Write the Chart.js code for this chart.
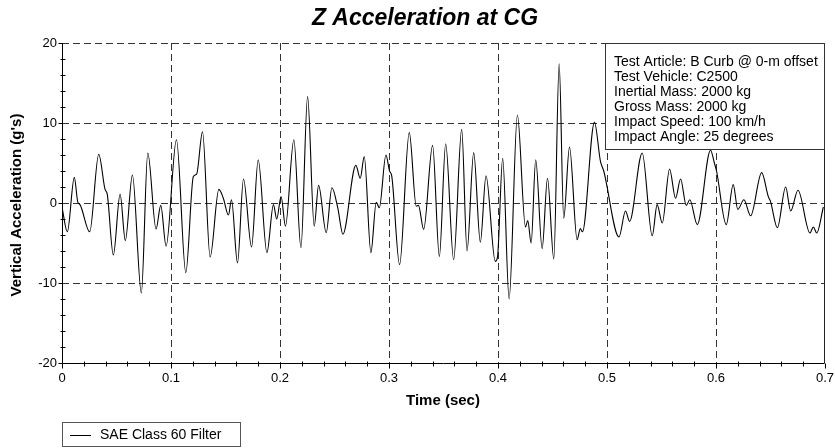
<!DOCTYPE html>
<html><head><meta charset="utf-8">
<script src="https://cdn.jsdelivr.net/npm/chart.js@4.4.0/dist/chart.umd.min.js"></script>
<style>html,body{margin:0;padding:0;background:#fff;}#wrap{width:835px;height:448px;position:relative;}</style>
</head><body><div id="wrap"><canvas id="c" width="835" height="448"></canvas></div>
<script>
const chartTitle = "Z Acceleration at CG";
const xAxisTitle = "Time (sec)";
const yAxisTitle = "Vertical Acceleration (g's)";
const seriesName = "SAE Class 60 Filter";
const infoLines = [
  "Test Article: B Curb @ 0-m offset",
  "Test Vehicle: C2500",
  "Inertial Mass: 2000 kg",
  "Gross Mass: 2000 kg",
  "Impact Speed: 100 km/h",
  "Impact Angle: 25 degrees"
];
const xTicks = [0, 0.1, 0.2, 0.3, 0.4, 0.5, 0.6, 0.7];
const xTickLabels = ["0", "0.1", "0.2", "0.3", "0.4", "0.5", "0.6", "0.7"];
const yTicks = [-20, -10, 0, 10, 20];
const yTickLabels = ["-20", "-10", "0", "10", "20"];

const timeSec = [
  0.000, 0.0049, 0.0113, 0.0145, 0.0165, 0.0254, 0.0337, 0.0395, 0.0415, 0.0471,
  0.0533, 0.0581, 0.0646, 0.0728, 0.0787, 0.0863, 0.0906, 0.0955, 0.1050, 0.1136,
  0.1205, 0.1235, 0.1289, 0.1359, 0.1439, 0.1480, 0.1527, 0.1555, 0.1610, 0.1665,
  0.1739, 0.1800, 0.1880, 0.1940, 0.1970, 0.2010, 0.2050, 0.2127, 0.2192, 0.2253,
  0.2314, 0.2354, 0.2424, 0.2476, 0.2530, 0.2577, 0.2696, 0.2736, 0.2773, 0.2834,
  0.2883, 0.2911, 0.2972, 0.3005, 0.3025, 0.3097, 0.3186, 0.3250, 0.3270, 0.3318,
  0.3400, 0.3462, 0.3520, 0.3593, 0.3667, 0.3716, 0.3777, 0.3838, 0.3890, 0.3975,
  0.3995, 0.4043, 0.4102, 0.4178, 0.4252, 0.4273, 0.4304, 0.4346, 0.4405, 0.4454,
  0.4512, 0.4561, 0.4603, 0.4656, 0.4726, 0.4755, 0.4775, 0.4885, 0.4940, 0.4970,
  0.5110, 0.5170, 0.5207, 0.5323, 0.5415, 0.5460, 0.5507, 0.5574, 0.5629, 0.5675,
  0.5727, 0.5760, 0.5828, 0.5950, 0.5985, 0.6005, 0.6094, 0.6158, 0.6200, 0.6256,
  0.6318, 0.6419, 0.6480, 0.6500, 0.6563, 0.6639, 0.6685, 0.6752, 0.6862, 0.6893,
  0.6924, 0.6985
];
const accelG = [
  -0.5, -3.6, 3.2, 0.1, -0.2, -3.6, 6.1, 1.7, 1.1, -6.5,
  1.1, -4.7, 3.5, -11.25, 6.25, -3.25, -0.3, -5.4, 7.9, -8.7,
  3.3, 3.6, 8.9, -6.75, 1.7, 0.6, -1.5, 0.4, -7.5, 3.0,
  -5.5, 5.4, -6.2, -0.2, -2.0, 0.8, -2.9, 7.9, -5.6, 13.3,
  -2.9, 2.2, -3.7, 1.9, -0.6, -3.9, 4.7, 3.1, 5.8, -6.2,
  0.1, -0.6, 6.0, 4.0, 3.4, -7.7, 8.8, -0.4, -0.3, -3.3,
  7.2, -6.7, 7.4, -7.1, 9.2, -6.0, 6.3, -4.9, 3.4, -7.3,
  -6.8, 5.6, -12.0, 11.0, -3.0, -2.2, -5.0, 5.4, -5.7, 3.1,
  -7.0, 17.4, -1.9, 7.0, -4.6, -3.2, -3.6, 10.1, 5.2, 4.0,
  -4.25, -1.0, -2.3, 6.25, -4.1, -0.2, -2.5, 4.25, 0.6, 3.0,
  -0.3, 0.4, -2.7, 6.6, 5.0, 4.0, -2.7, 2.3, -0.8, 0.4,
  -1.6, 3.8, 0.8, 0.2, -3.1, 2.0, -1.0, 1.6, -3.75, -3.0,
  -3.75, -0.5
];
const xMinorStep = 0.02;
const yMinorStep = 2;

const FONT = '"Liberation Sans", Arial, Helvetica, sans-serif';

const decor = {
  id: 'decor',
  beforeDatasetsDraw(chart) {
    const {ctx, chartArea: a, scales: {x, y}} = chart;
    ctx.save();
    ctx.strokeStyle = '#333333';
    ctx.lineWidth = 1;
    ctx.setLineDash([7, 4]);
    ctx.beginPath();
    yTicks.forEach(v => {
      if (v === yTicks[0]) return;
      const py = Math.round(y.getPixelForValue(v)) + 0.5;
      ctx.moveTo(a.left, py); ctx.lineTo(a.right, py);
    });
    xTicks.forEach((v, i) => {
      if (i === 0 || i === xTicks.length - 1) return;
      const px = Math.round(x.getPixelForValue(v)) + 0.5;
      ctx.moveTo(px, a.top); ctx.lineTo(px, a.bottom);
    });
    ctx.stroke();
    ctx.restore();
  },
  afterDatasetsDraw(chart) {
    const {ctx, chartArea: a, scales: {x, y}} = chart;
    ctx.save();
    ctx.setLineDash([]);
    ctx.lineWidth = 1;
    const L = Math.round(a.left) + 0.5, B = Math.round(a.bottom) + 0.5, R = Math.round(a.right) - 0.5;
    ctx.strokeStyle = '#000';
    ctx.beginPath();
    ctx.moveTo(L, a.top); ctx.lineTo(L, B);
    ctx.lineTo(R, B);
    ctx.stroke();
    ctx.strokeStyle = '#222';
    ctx.beginPath();
    ctx.moveTo(R, a.top); ctx.lineTo(R, B);
    ctx.stroke();
    ctx.strokeStyle = '#000';
    ctx.beginPath();
    for (let v = yTicks[0]; v <= yTicks[yTicks.length - 1] + 1e-9; v += yMinorStep) {
      const py = Math.round(y.getPixelForValue(v)) + 0.5;
      if (Math.abs(v % 10) < 1e-9) { ctx.moveTo(L - 4, py); ctx.lineTo(L, py); }
      else { ctx.moveTo(L - 2, py); ctx.lineTo(L + 3, py); }
    }
    for (let k = 0; k <= 35; k++) {
      const v = k * xMinorStep;
      const px = Math.round(x.getPixelForValue(v)) + 0.5;
      if (k % 5 === 0) { ctx.moveTo(px, B); ctx.lineTo(px, B + 5); }
      else { ctx.moveTo(px, B - 2); ctx.lineTo(px, B + 3); }
    }
    ctx.stroke();
    ctx.fillStyle = '#fff';
    ctx.strokeStyle = '#333';
    ctx.fillRect(605.5, 43.5, 219, 106);
    ctx.strokeRect(605.5, 43.5, 219, 106);
    ctx.fillStyle = '#000';
    ctx.font = '14px ' + FONT;
    ctx.textAlign = 'left';
    ctx.textBaseline = 'middle';
    infoLines.forEach((s, i) => ctx.fillText(s, 614, 62 + i * 15.1));
    ctx.strokeStyle = '#555';
    ctx.strokeRect(62.5, 422.5, 178, 24);
    ctx.strokeStyle = '#000';
    ctx.beginPath(); ctx.moveTo(70, 435.5); ctx.lineTo(91, 435.5); ctx.stroke();
    ctx.fillText(seriesName, 100, 435);
    ctx.textAlign = 'center';
    ctx.font = 'italic bold 23px ' + FONT;
    ctx.fillText(chartTitle, 425, 19);
    ctx.font = 'bold 15px ' + FONT;
    ctx.fillText(xAxisTitle, 443, 401);
    ctx.translate(16.5, 205);
    ctx.rotate(-Math.PI / 2);
    ctx.fillText(yAxisTitle, 0, 0);
    ctx.restore();
  }
};

new Chart(document.getElementById('c'), {
  type: 'line',
  data: {
    datasets: [{
      label: seriesName,
      data: timeSec.map((t, i) => ({x: t, y: accelG[i]})),
      borderColor: '#000',
      borderWidth: 1.1,
      pointRadius: 0,
      fill: false,
      cubicInterpolationMode: 'monotone'
    }]
  },
  options: {
    responsive: false,
    animation: false,
    devicePixelRatio: 1,
    layout: {padding: {top: 43, right: 10, bottom: 45, left: 0}},
    plugins: {legend: {display: false}, title: {display: false}, tooltip: {enabled: false}},
    scales: {
      x: {
        type: 'linear', min: 0, max: 0.7,
        grid: {display: false, drawTicks: false},
        border: {display: false},
        afterBuildTicks: s => { s.ticks = xTicks.map(v => ({value: v})); },
        afterFit: s => { s.height = 40; s.paddingLeft = 0; s.paddingRight = 0; },
        ticks: {
          color: '#000', font: {size: 13, family: FONT}, padding: 8, maxRotation: 0, autoSkip: false,
          callback: (v, i) => xTickLabels[i]
        }
      },
      y: {
        type: 'linear', min: -20, max: 20,
        grid: {display: false, drawTicks: false},
        border: {display: false},
        afterBuildTicks: s => { s.ticks = yTicks.map(v => ({value: v})); },
        afterFit: s => { s.width = 62; s.paddingTop = 0; s.paddingBottom = 0; },
        ticks: {
          color: '#000', font: {size: 13, family: FONT}, padding: 5, autoSkip: false,
          callback: (v, i) => yTickLabels[i]
        }
      }
    }
  },
  plugins: [decor]
});
</script>
</body></html>
